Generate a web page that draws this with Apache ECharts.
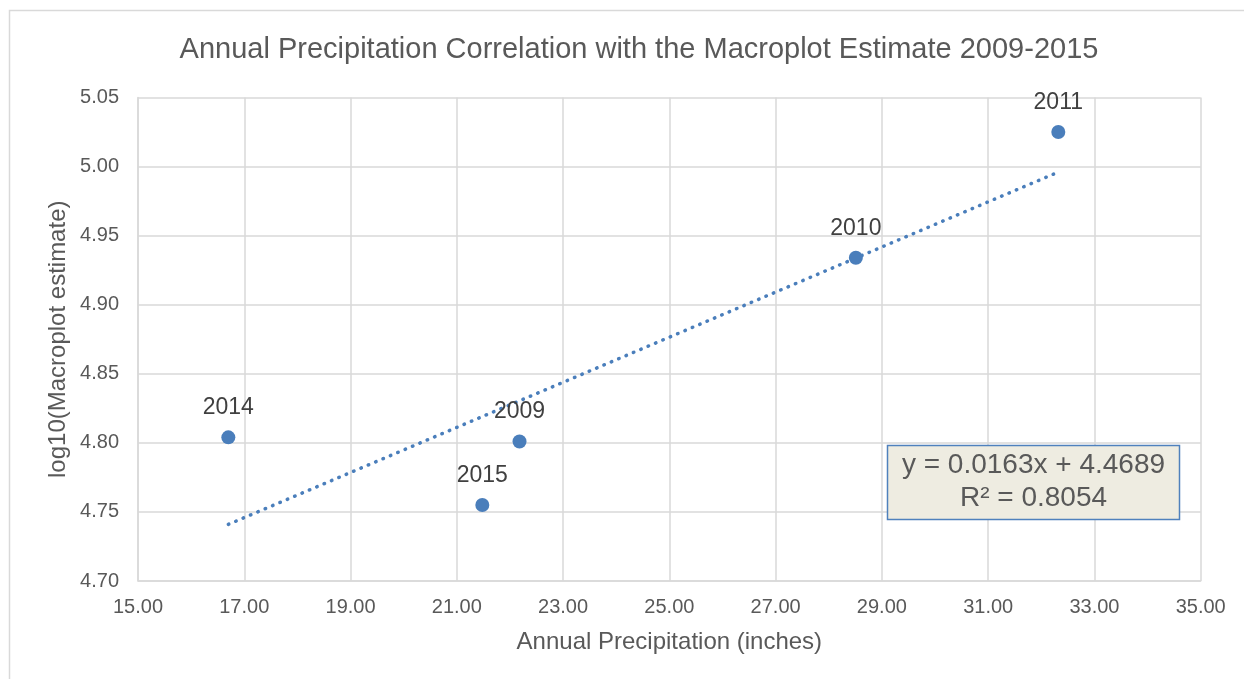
<!DOCTYPE html>
<html>
<head>
<meta charset="utf-8">
<script src="https://cdn.jsdelivr.net/npm/echarts@6/dist/echarts.min.js"></script>
<style>
  html, body { margin: 0; padding: 0; background: #fff; }
  #chart { width: 1244px; height: 679px; }
</style>
</head>
<body>
<div id="chart"></div>
<script>
// values
const years = ['2009', '2010', '2011', '2014', '2015']
const precip = [22.18, 28.51, 32.32, 16.70, 21.48]
const logEstimate = [4.801, 4.934, 5.025, 4.804, 4.755]

// dotted linear trendline, endpoints as drawn
const trendX = [16.70, 32.32]
const trendY = [4.741, 4.996]

const equationLines = ['y = 0.0163x + 4.4689', 'R² = 0.8054']

const FONT = '"Liberation Sans", Arial, sans-serif'
const TEXT = '#595959'
const GRID = '#d9d9d9'
const BLUE = '#4a7ebb'

const chart = echarts.init(document.getElementById('chart'))

chart.setOption({
  animation: false,
  textStyle: { fontFamily: FONT },
  title: {
    text: 'Annual Precipitation Correlation with the Macroplot Estimate 2009-2015',
    left: 634,
    top: 30,
    textAlign: 'center',
    textStyle: { fontFamily: FONT, fontSize: 29, fontWeight: 'normal', color: TEXT }
  },
  grid: { left: 138, right: 43.3, top: 97.5, bottom: 98 },
  xAxis: {
    type: 'value',
    min: 15,
    max: 35,
    interval: 2,
    name: 'Annual Precipitation (inches)',
    nameLocation: 'middle',
    nameGap: 49,
    nameMoveOverlap: false,
    nameTextStyle: { fontFamily: FONT, fontSize: 24, color: TEXT },
    axisLine: { lineStyle: { color: GRID, width: 1.5 } },
    axisTick: { show: false },
    axisLabel: {
      margin: 16,
      fontSize: 20,
      color: TEXT,
      formatter: (v) => v.toFixed(2)
    },
    splitLine: { show: true, lineStyle: { color: GRID, width: 1.5 } }
  },
  yAxis: {
    type: 'value',
    min: 4.7,
    max: 5.05,
    interval: 0.05,
    name: 'log10(Macroplot estimate)',
    nameLocation: 'middle',
    nameGap: 68,
    nameMoveOverlap: false,
    nameTextStyle: { fontFamily: FONT, fontSize: 24, color: TEXT },
    axisLine: { show: true, lineStyle: { color: GRID, width: 1.5 } },
    axisTick: { show: false },
    axisLabel: {
      margin: 19,
      fontSize: 20,
      color: TEXT,
      formatter: (v) => v.toFixed(2)
    },
    splitLine: { show: true, lineStyle: { color: GRID, width: 1.5 } }
  },
  series: [
    {
      type: 'line',
      data: trendX.map((x, i) => [x, trendY[i]]),
      symbol: 'none',
      silent: true,
      lineStyle: { color: BLUE, width: 3.5, type: [0.5, 7.5], cap: 'round' },
      z: 2
    },
    {
      type: 'scatter',
      data: precip.map((x, i) => ({ value: [x, logEstimate[i]], name: years[i] })),
      symbolSize: 14,
      itemStyle: { color: BLUE, opacity: 1 },
      label: {
        show: true,
        position: 'top',
        distance: 11,
        fontSize: 23,
        color: '#404040',
        formatter: (p) => p.name
      },
      emphasis: { disabled: true },
      z: 3
    }
  ],
  graphic: [
    {
      type: 'rect',
      shape: { x: 9.5, y: 10.5, width: 1300, height: 700 },
      style: { fill: 'none', stroke: GRID, lineWidth: 1.5 },
      silent: true
    },
    {
      type: 'rect',
      shape: { x: 887.5, y: 445.5, width: 292, height: 74 },
      style: { fill: '#eeece1', stroke: '#4f81bd', lineWidth: 1.5 },
      z: 10
    },
    {
      type: 'text',
      x: 1033.5,
      y: 482,
      style: {
        text: equationLines.join('\n'),
        fontFamily: FONT,
        fontSize: 28,
        lineHeight: 33,
        fill: TEXT,
        align: 'center',
        verticalAlign: 'middle'
      },
      z: 11
    }
  ]
})
</script>
</body>
</html>
